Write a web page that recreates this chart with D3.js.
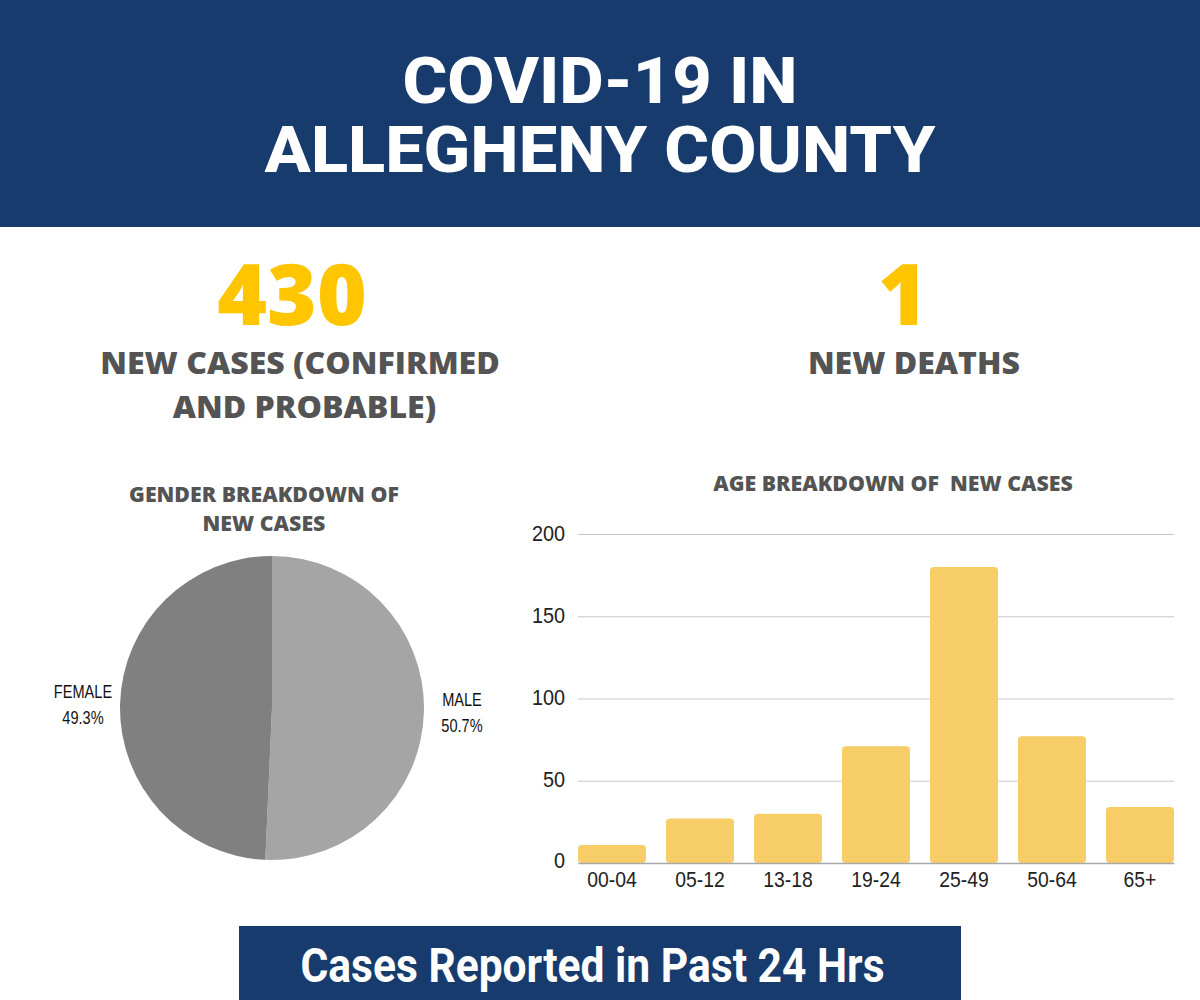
<!DOCTYPE html>
<html>
<head>
<meta charset="utf-8">
<script src="https://cdn.jsdelivr.net/npm/d3@7"></script>
<style>
  html, body { margin: 0; padding: 0; background: #fff; }
  svg { display: block; }
</style>
</head>
<body>
<div id="chart"></div>
<script>
const titleLines = ['COVID-19 IN', 'ALLEGHENY COUNTY'];
const newCases = '430';
const newDeaths = '1';
const casesLines = ['NEW CASES (CONFIRMED', 'AND PROBABLE)'];
const deathsLines = ['NEW DEATHS'];
const pieTitle = ['GENDER BREAKDOWN OF', 'NEW CASES'];
const barTitle = 'AGE BREAKDOWN OF  NEW CASES';
const footer = 'Cases Reported in Past 24 Hrs';

const genders = ['MALE', 'FEMALE'];
const genderShare = [50.7, 49.3];

const ageGroups = ['00-04', '05-12', '13-18', '19-24', '25-49', '50-64', '65+'];
const ageCases = [11, 27, 30, 71, 180, 77, 34];
const yTicks = [0, 50, 100, 150, 200];

const navy = '#173b6d';
const gold = '#ffc600';
const grey = '#545454';
const sans = '"Liberation Sans", sans-serif';
const openSans = '"Open Sans", sans-serif';

const svg = d3.select('#chart').append('svg')
    .attr('width', 1200)
    .attr('height', 1000);

function addLines(lines, x, y, lineHeight, size, weight, family, color) {
    return svg.append('g').selectAll('text')
        .data(lines)
        .enter()
        .append('text')
        .attr('x', x)
        .attr('y', (d, i) => y + i * lineHeight)
        .attr('text-anchor', 'middle')
        .attr('font-family', family)
        .attr('font-size', size)
        .attr('font-weight', weight)
        .attr('fill', color)
        .attr('xml:space', 'preserve')
        .text(d => d);
}

// squeeze or stretch text sideways, the font list has no condensed cut
function condense(selection, factor) {
    selection.each(function () {
        d3.select(this)
            .attr('textLength', this.getComputedTextLength() * factor)
            .attr('lengthAdjust', 'spacingAndGlyphs');
    });
}

// header
svg.append('rect').attr('width', 1200).attr('height', 227).attr('fill', navy);
condense(addLines(titleLines, 600, 103, 69, 65, 800, 'Roboto, sans-serif', '#fff'), 1.055);

// big numbers
addLines([newCases], 292, 325, 0, 85, 800, openSans, gold);
addLines([newDeaths], 903, 325, 0, 85, 800, openSans, gold);
condense(addLines(casesLines.slice(0, 1), 300, 374, 0, 30.5, 800, openSans, grey), 1.05);
condense(addLines(casesLines.slice(1), 304.5, 418, 0, 30.5, 800, openSans, grey), 1.05);
condense(addLines(deathsLines, 914, 374, 44, 30.5, 800, openSans, grey), 1.05);

// pie
condense(addLines(pieTitle, 264, 502, 29, 20.5, 800, openSans, grey), 1.04);

const pieColor = d3.scaleOrdinal().domain(genders).range(['#a5a5a5', '#808080']);
const pie = d3.pie().sort(null).value((d, i) => genderShare[i]);
const arc = d3.arc().innerRadius(0).outerRadius(152);

svg.append('g')
    .attr('transform', 'translate(272, 708)')
    .selectAll('path')
    .data(pie(genders))
    .enter()
    .append('path')
    .attr('d', arc)
    .attr('fill', d => pieColor(d.data));

const pieLabelX = { MALE: 462, FEMALE: 83 };
const pieLabelY = { MALE: 706, FEMALE: 698 };
genders.forEach((g, i) => {
    condense(addLines([g, genderShare[i] + '%'], pieLabelX[g], pieLabelY[g], 25.5, 18, 400, sans, '#111'), 0.81);
});

// bars
condense(addLines([barTitle], 893, 491, 0, 20.5, 800, openSans, grey), 1.04);

const x = d3.scaleBand()
    .domain(ageGroups)
    .range([578, 1174])
    .paddingInner(0.227)
    .paddingOuter(0);

const y = d3.scaleLinear()
    .domain([0, 200])
    .range([863, 534]);

const yAxisGroup = svg.append('g')
    .attr('transform', 'translate(578, 0)')
    .call(d3.axisLeft(y).tickValues(yTicks).tickSize(-596).tickPadding(13));
yAxisGroup.select('.domain').remove();
yAxisGroup.selectAll('.tick line').attr('stroke', '#c8c8c8').attr('stroke-width', 1.2);
const yLabels = yAxisGroup.selectAll('.tick text')
    .attr('font-family', sans)
    .attr('font-size', 22)
    .attr('fill', '#222')
    .attr('dy', d => d === 0 ? 4 : 6);
condense(yLabels, 0.9);

svg.append('g').selectAll('rect')
    .data(ageCases)
    .enter()
    .append('rect')
    .attr('x', (d, i) => x(ageGroups[i]))
    .attr('y', d => y(d))
    .attr('width', x.bandwidth())
    .attr('height', d => y(0) - y(d))
    .attr('rx', 4)
    .attr('fill', '#f6cd66');

const xAxisGroup = svg.append('g')
    .attr('transform', 'translate(0, 863)')
    .call(d3.axisBottom(x).tickSize(0).tickPadding(8));
xAxisGroup.select('.domain').attr('stroke', '#a8a8a8').attr('stroke-width', 1.5);
const xLabels = xAxisGroup.selectAll('.tick text')
    .attr('font-family', sans)
    .attr('font-size', 22)
    .attr('fill', '#222');
condense(xLabels, 0.88);

// footer
svg.append('rect').attr('x', 239).attr('y', 926).attr('width', 722).attr('height', 74).attr('fill', navy);
svg.append('text')
    .attr('x', 592.5)
    .attr('y', 982)
    .attr('text-anchor', 'middle')
    .attr('font-family', 'Roboto, sans-serif')
    .attr('font-size', 48)
    .attr('font-weight', 700)
    .attr('fill', '#fff')
    .attr('textLength', 584)
    .attr('lengthAdjust', 'spacingAndGlyphs')
    .text(footer);
</script>
</body>
</html>
